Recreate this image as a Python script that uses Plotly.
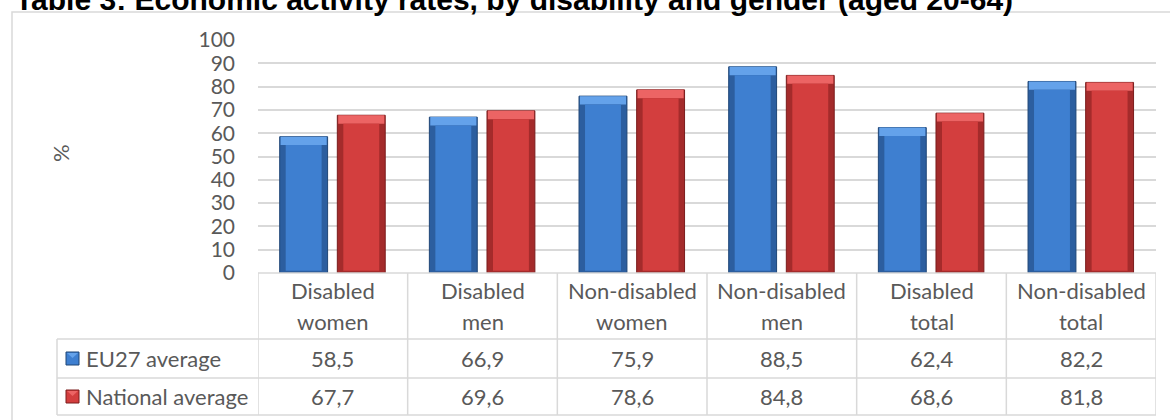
import plotly.graph_objects as go

# Economic activity rates (%), aged 20-64
categories = ["Disabled<br>women", "Disabled<br>men", "Non-disabled<br>women",
              "Non-disabled<br>men", "Disabled<br>total", "Non-disabled<br>total"]
eu27_average = [58.5, 66.9, 75.9, 88.5, 62.4, 82.2]
national_average = [67.7, 69.6, 78.6, 84.8, 68.6, 81.8]
series_names = ["EU27 average", "National average"]
y_ticks = [0, 10, 20, 30, 40, 50, 60, 70, 80, 90, 100]

title_text = "Table 3: Economic activity rates, by disability and gender (aged 20-64)"

FONT = "Lato"
TEXT_GREY = "#595959"
GRID = "#d9d9d9"

# plot-area geometry in pixels (used to convert table offsets to paper units)
W, H = 1170, 420
M_L, M_R, M_T, M_B = 258, 14, 40, 147
PW = W - M_L - M_R
PH = H - M_T - M_B


def px_x(px):
    return (px - M_L) / PW


def px_y(py):
    return (H - M_B - py) / PH


idx = list(range(len(categories)))

# bevelled bar styles: outline, side edge, face, top cap
styles = [
    dict(outline="#1f4677", edge="#2c5e9f", face="#3e7fd0", cap="#64a2ea", offset=-0.355),
    dict(outline="#7a1c1c", edge="#a42b2b", face="#d33e3e", cap="#ec6464", offset=0.03),
]
BAR_W = 0.32
SIDE = 0.04        # side bevel, category units
TOP = 3.6          # top bevel, value units
BOTTOM = 1.0       # bottom bevel, value units

fig = go.Figure()
for name, vals, st in zip(series_names, [eu27_average, national_average], styles):
    # full bar (dark edges)
    fig.add_trace(go.Bar(
        x=idx, y=vals, name=name, width=BAR_W, offset=st["offset"],
        marker=dict(color=st["edge"], line=dict(color=st["outline"], width=1)),
        showlegend=False, hovertemplate="%{y}<extra>" + name + "</extra>"))
    # light top bevel
    fig.add_trace(go.Bar(
        x=idx, y=[TOP] * len(vals), base=[v - TOP for v in vals],
        width=BAR_W - 0.012, offset=st["offset"] + 0.006,
        marker=dict(color=st["cap"], line=dict(width=0)),
        showlegend=False, hoverinfo="skip"))
    # main face
    fig.add_trace(go.Bar(
        x=idx, y=[v - TOP - BOTTOM for v in vals], base=[BOTTOM] * len(vals),
        width=BAR_W - 2 * SIDE, offset=st["offset"] + SIDE,
        marker=dict(color=st["face"], line=dict(width=0)),
        showlegend=False, hoverinfo="skip"))

shapes = []
line = dict(color=GRID, width=1.5)
# outer chart frame
shapes.append(dict(type="rect", xref="paper", yref="paper",
                   x0=px_x(12), x1=px_x(1185), y0=px_y(440), y1=px_y(12),
                   line=dict(color=GRID, width=1.5), layer="below"))
# data table grid
row_top, row1, row2, row_bot = 273, 339, 378, 415
for k in range(len(categories) + 1):
    shapes.append(dict(type="line", xref="x", yref="paper",
                       x0=k - 0.5, x1=k - 0.5, y0=px_y(row_top), y1=px_y(row_bot), line=line))
shapes.append(dict(type="line", xref="paper", yref="paper",
                   x0=px_x(57), x1=px_x(57), y0=px_y(row1), y1=px_y(row_bot), line=line))
for r in (row1, row2, row_bot):
    shapes.append(dict(type="line", xref="paper", yref="paper",
                       x0=px_x(57), x1=1, y0=px_y(r), y1=px_y(r), line=line))
shapes.append(dict(type="line", xref="paper", yref="paper",
                   x0=0, x1=1, y0=px_y(row_top), y1=px_y(row_top), line=line))
# legend keys inside the table
for st, (r0, r1) in zip(styles, ((row1, row2), (row2, row_bot))):
    cy = (r0 + r1) / 2
    shapes.append(dict(type="rect", xref="paper", yref="paper",
                       x0=px_x(66), x1=px_x(79), y0=px_y(cy + 6.5), y1=px_y(cy - 6.5),
                       fillcolor=st["face"], line=dict(color=st["outline"], width=1)))
    shapes.append(dict(type="path", xref="paper", yref="paper",
                       path=(f"M {px_x(67)} {px_y(cy - 5.5)} L {px_x(78)} {px_y(cy - 5.5)} "
                             f"L {px_x(72.5)} {px_y(cy - 0.5)} Z"),
                       fillcolor=st["cap"], line=dict(width=0)))

annotations = []
tfont = dict(family=FONT, size=22, color=TEXT_GREY)
header_lines = (290, 321)
for i, c in enumerate(categories):
    for part, py in zip(c.split("<br>"), header_lines):
        annotations.append(dict(x=i, y=px_y(py), xref="x", yref="paper",
                                text=part, showarrow=False, font=tfont,
                                xanchor="center", yanchor="middle"))
for vals, r0, r1 in ((eu27_average, row1, row2), (national_average, row2, row_bot)):
    for i, v in enumerate(vals):
        annotations.append(dict(x=i, y=px_y((r0 + r1) / 2), xref="x", yref="paper",
                                text=f"{v:.1f}".replace(".", ","), showarrow=False,
                                font=tfont, xanchor="center", yanchor="middle"))
for name, r0, r1 in zip(series_names, (row1, row2), (row2, row_bot)):
    annotations.append(dict(x=px_x(84), y=px_y((r0 + r1) / 2), xref="paper", yref="paper",
                            text=name, showarrow=False, font=tfont,
                            xanchor="left", yanchor="middle"))
# axis title
annotations.append(dict(x=px_x(60), y=px_y(153), xref="paper", yref="paper", text="%",
                        textangle=-90, showarrow=False, font=tfont,
                        xanchor="center", yanchor="middle"))
# chart title
annotations.append(dict(x=px_x(13), y=px_y(18), xref="paper", yref="paper",
                        text="<b>" + title_text + "</b>", showarrow=False,
                        font=dict(family="Liberation Sans", size=30, color="#000000"),
                        xanchor="left", yanchor="bottom"))

fig.update_layout(
    width=W, height=H,
    margin=dict(l=M_L, r=M_R, t=M_T, b=M_B),
    paper_bgcolor="white", plot_bgcolor="white",
    barmode="overlay",
    xaxis=dict(range=[-0.5, len(categories) - 0.5], showticklabels=False,
               showgrid=False, zeroline=False, showline=False, fixedrange=True),
    yaxis=dict(range=[0, 100], tickvals=y_ticks, showgrid=True, gridcolor=GRID,
               gridwidth=1.5, zeroline=False, showline=False,
               tickfont=dict(family=FONT, size=21, color=TEXT_GREY),
               ticklabelstandoff=22),
    shapes=shapes, annotations=annotations,
    showlegend=False,
)

fig.write_html("out.html")
